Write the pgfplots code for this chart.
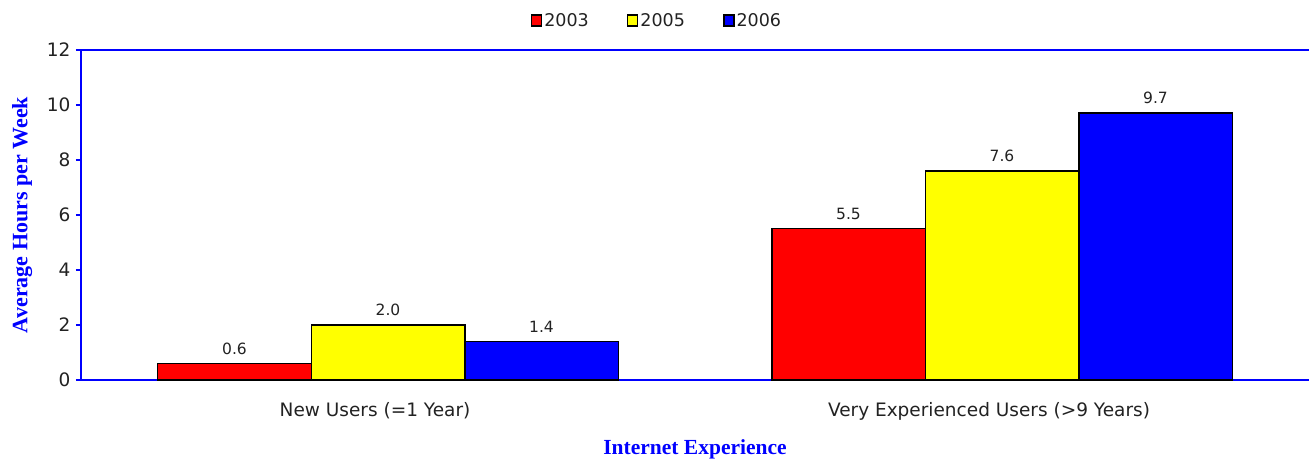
\documentclass[border=0pt]{standalone}
\usepackage{pgfplots}
\pgfplotsset{compat=1.18}
\usepackage{fontspec}
\setmainfont{DejaVu Sans}
\newfontfamily\labelfont{Liberation Serif}
\definecolor{barred}{RGB}{255,0,0}
\definecolor{baryellow}{RGB}{255,255,0}
\definecolor{barblue}{RGB}{0,0,255}
\definecolor{axblue}{RGB}{0,0,255}
\definecolor{txt}{RGB}{34,34,34}
\begin{document}
\begin{tikzpicture}
  \begin{axis}[
      name=ax,
      scale only axis,
      width=1228pt, height=330pt,
      xmin=-0.5, xmax=1.5,
      ymin=0, ymax=12,
      ytick={0,2,...,12},
      xtick={0,1},
      xticklabels={New Users (=1 Year),Very Experienced Users (>9 Years)},
      axis x line*=box,
      axis y line*=left,
      axis line style={axblue, line width=1.4pt},
      ytick style={axblue, line width=1.4pt},
      xtick style={draw=none},
      tick align=outside,
      major tick length=5pt,
      /pgf/number format/assume math mode=true,
      tick label style={font=\fontsize{18.5}{20}\selectfont, text=txt},
      yticklabel style={xshift=-2pt},
      xticklabel style={yshift=-14pt, xshift=-13pt},
      ylabel={\labelfont\bfseries Average Hours per Week},
      ylabel style={at={(axis description cs:-0.048,0.5)}, anchor=center, font=\fontsize{22}{24}\selectfont, text=axblue},
      xlabel={\labelfont\bfseries Internet Experience},
      xlabel style={at={(axis description cs:0.5,-0.209)}, anchor=center, font=\fontsize{21.5}{23}\selectfont, text=axblue},
      ybar=0pt,
      bar width=0.25,
      nodes near coords,
      every node near coord/.append style={font=\fontsize{15.5}{17}\selectfont, text=txt, yshift=5pt,
        /pgf/number format/fixed, /pgf/number format/fixed zerofill, /pgf/number format/precision=1,
        /pgf/number format/assume math mode=true},
      legend columns=3,
      legend style={at={(0.469,1.09)}, anchor=center, draw=none, fill=none,
        font=\fontsize{17.5}{19}\selectfont, text=txt,
        /tikz/every even column/.append style={column sep=36pt}},
      legend image code/.code={\draw[#1, draw=black, line width=1.6pt] (0pt,-5.5pt) rectangle (10pt,5.5pt);},
    ]
    \addplot[fill=barred, draw=black, line width=1.5pt, bar shift=-0.25] coordinates {(0,0.6) (1,5.5)};
    \addplot[fill=baryellow, draw=black, line width=1.5pt, bar shift=0] coordinates {(0,2.0) (1,7.6)};
    \addplot[fill=barblue, draw=black, line width=1.5pt, bar shift=0.25] coordinates {(0,1.4) (1,9.7)};
    \legend{2003,2005,2006}
  \end{axis}
  \pgfresetboundingbox
  \path ([xshift=-81pt,yshift=-80pt]ax.south west) rectangle ([yshift=50pt]ax.north east);
\end{tikzpicture}
\end{document}
